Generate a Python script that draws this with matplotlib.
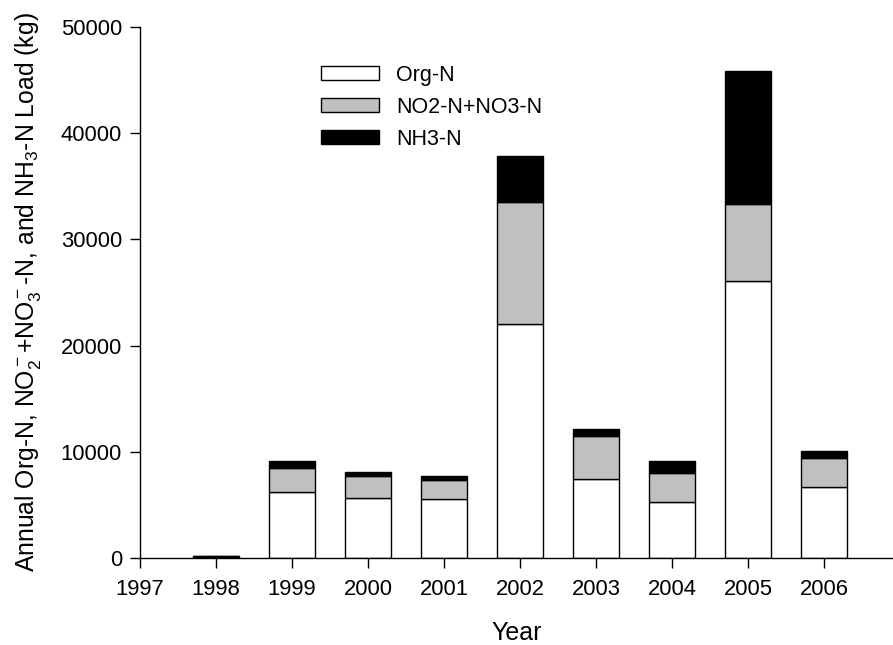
import matplotlib
matplotlib.use("Agg")
import matplotlib.pyplot as plt
import numpy as np

plt.rcParams['font.family'] = ['Liberation Sans', 'DejaVu Sans']
plt.rcParams['mathtext.fontset'] = 'custom'
plt.rcParams['mathtext.rm'] = 'Liberation Sans'
plt.rcParams['mathtext.it'] = 'Liberation Sans'
plt.rcParams['mathtext.bf'] = 'Liberation Sans'

years = [1998, 1999, 2000, 2001, 2002, 2003, 2004, 2005, 2006]
org_n = [90, 6240, 5620, 5525, 22000, 7410, 5240, 26050, 6685]
no2_no3_n = [110, 2210, 2070, 1790, 11520, 4110, 2790, 7250, 2705]
nh3_n = [20, 650, 380, 405, 4330, 600, 1100, 12560, 685]
xticks = [1997, 1998, 1999, 2000, 2001, 2002, 2003, 2004, 2005, 2006]
yticks = [0, 10000, 20000, 30000, 40000, 50000]

fig = plt.figure(figsize=(8.93, 6.45), dpi=100)
ax = fig.add_axes([140/893, 1-558/645, (893-140)/893, (558-27)/645])

x = np.array(years)
org = np.array(org_n)
no = np.array(no2_no3_n)
nh = np.array(nh3_n)
w = 0.6
ax.bar(x, org, w, color='white', edgecolor='black', linewidth=1, label='Org-N')
ax.bar(x, no, w, bottom=org, color='#c0c0c0', edgecolor='black', linewidth=1, label='NO2-N+NO3-N')
ax.bar(x, nh, w, bottom=org+no, color='black', edgecolor='black', linewidth=1, label='NH3-N')

ax.set_xlim(1997, 1997 + 753/76)
ax.set_ylim(0, 50000)
ax.set_xticks(xticks)
ax.set_yticks(yticks)
ax.tick_params(direction='out', length=7, width=1, labelsize=15.8)
ax.tick_params(axis='x', pad=8)
ax.tick_params(axis='y', pad=6)
for s in ['top', 'right']:
    ax.spines[s].set_visible(False)
for s in ['left', 'bottom']:
    ax.spines[s].set_linewidth(1)

ax.set_xlabel('Year', fontsize=18, labelpad=15)
ax.set_ylabel(r'Annual Org-N, NO$_2^-$+NO$_3^-$-N, and NH$_3$-N Load (kg)', fontsize=17.8, labelpad=13)

ax.legend(loc='upper left', bbox_to_anchor=(0.214, 0.965), frameon=False, fontsize=15.5,
          handlelength=2.7, handleheight=0.62, handletextpad=0.8, labelspacing=0.51)

fig.savefig('out.png', dpi=100)
